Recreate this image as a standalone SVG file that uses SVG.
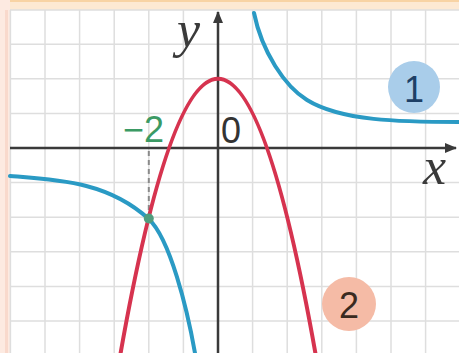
<svg xmlns="http://www.w3.org/2000/svg" width="459" height="353" viewBox="0 0 459 353">
  <style>
    .grid { stroke: #dedede; stroke-width: 1.5; fill: none; }
    .axis { stroke: #3a3a3a; stroke-width: 2.5; fill: none; }
    .hyp { stroke: #2a9ac4; stroke-width: 4; fill: none; stroke-linecap: round; }
    .par { stroke: #d6334f; stroke-width: 4; fill: none; }
    .var { font-family: "Liberation Serif", serif; font-style: italic; font-size: 52px; fill: #3a3a3a; }
    .num { font-family: "Liberation Sans", Arial, sans-serif; font-size: 36px; }
  </style>
  <defs>
    <marker id="arr" viewBox="0 0 12 10" refX="11" refY="5" markerWidth="12" markerHeight="10" markerUnits="userSpaceOnUse" orient="auto">
      <path d="M0,0 L12,5 L0,10 Z" fill="#3a3a3a"/>
    </marker>
  </defs>

  <g id="frame">
    <rect x="0" y="0" width="459" height="353" fill="#ffffff"/>
    <rect x="0" y="0" width="459" height="10" fill="#fde9d3"/>
    <rect x="0" y="0" width="459" height="2" fill="#f8d3a4"/>
    <rect x="0" y="0" width="10" height="353" fill="#fdeae1"/>
    <rect x="5" y="10" width="3" height="343" fill="#f9d9cc"/>
  </g>

  <g id="grid" class="grid">
    <path d="M10.4,10 V353 M45,10 V353 M79.6,10 V353 M114.2,10 V353 M148.8,10 V353 M183.4,10 V353 M252.6,10 V353 M287.2,10 V353 M321.8,10 V353 M356.4,10 V353 M391,10 V353 M425.6,10 V353"/>
    <path d="M10,10 H459 M10,44.2 H459 M10,78.8 H459 M10,113.4 H459 M10,182.6 H459 M10,217.2 H459 M10,251.8 H459 M10,286.4 H459 M10,321 H459"/>
  </g>

  <g id="axes">
    <line class="axis" x1="10" y1="148" x2="456" y2="148" marker-end="url(#arr)"/>
    <line class="axis" x1="218" y1="353" x2="218" y2="12" marker-end="url(#arr)"/>
  </g>

  <g id="connectors">
    <line x1="148.8" y1="151" x2="148.8" y2="212" stroke="#8a8a8a" stroke-width="2" stroke-dasharray="5,4"/>
  </g>

  <g id="hyperbola">
    <path class="hyp" d="M254,13 C262,52 284.8,86.2 307,100 C341,121 400,122 459,122"/>
    <path class="hyp" d="M10,176 C60,180 108,182 148.8,219 C170,239 187,308 195,353"/>
  </g>

  <g id="parabola">
    <path class="par" d="M120.1,355.9 Q218,-198.3 315.9,355.9"/>
  </g>

  <g id="point">
    <circle cx="148.8" cy="218.5" r="5" fill="#4f9d7e"/>
  </g>

  <g id="labels">
    <text class="var" x="177" y="47">y</text>
    <text class="var" x="423" y="184">x</text>
    <text class="num" x="221" y="143" fill="#333333">0</text>
    <text class="num" x="164" y="142" fill="#3b9a64" text-anchor="end" font-size="38">−2</text>
  </g>

  <g id="label1">
    <circle cx="414" cy="87" r="26" fill="#a9cdea"/>
    <text class="num" x="414" y="102" text-anchor="middle" font-size="40" fill="#1d3f66">1</text>
  </g>

  <g id="label2">
    <circle cx="349" cy="304" r="27" fill="#f5bba6"/>
    <text class="num" x="349" y="318" text-anchor="middle" font-size="40" fill="#3a2a20">2</text>
  </g>
</svg>
